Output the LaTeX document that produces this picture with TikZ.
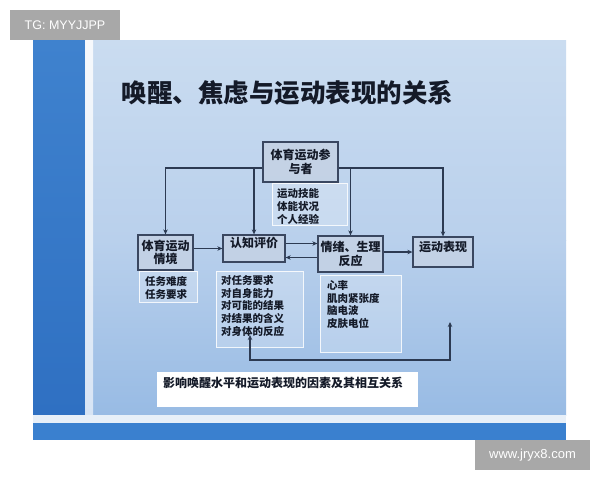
\documentclass[tikz,border=0pt]{standalone}
\usepackage{fontspec}
\newfontfamily\cjk{Noto Sans CJK SC}
\newfontfamily\lat{Liberation Sans}
\usetikzlibrary{arrows.meta,calc}
\definecolor{slideTop}{HTML}{CADCF0}
\definecolor{slideMid}{HTML}{B9D0EC}
\definecolor{slideBot}{HTML}{98BBE4}
\definecolor{stripTop}{HTML}{3F82CE}
\definecolor{stripBot}{HTML}{2F70C2}
\definecolor{bandBlue}{HTML}{3A80CF}
\definecolor{boxDraw}{HTML}{3A4760}
\definecolor{boxFill}{HTML}{C5D2E4}
\definecolor{lineCol}{HTML}{2C3A52}
\definecolor{txtCol}{HTML}{141A28}
\definecolor{tagGray}{HTML}{A8A8A8}
\begin{document}
\begin{tikzpicture}[x=1pt,y=-1pt,
  mainbox/.style={draw=boxDraw,line width=1.3pt,fill=boxFill,fill opacity=0.85,text opacity=1,
    align=center,inner sep=0pt,text=txtCol,font=\cjk\bfseries\fontsize{12}{13.5}\selectfont},
  detailbox/.style={draw=white,draw opacity=0.85,line width=1pt,fill=white,fill opacity=0.22,inner sep=0pt},
  detailtext/.style={anchor=north west,align=left,inner sep=0pt,text=txtCol,
    font=\cjk\bfseries\fontsize{10.5}{12.8}\selectfont},
  conn/.style={draw=lineCol,line width=1.1pt,-{Stealth[length=5pt,width=4.5pt]}},
  connboth/.style={draw=lineCol,line width=1.1pt,{Stealth[length=5pt,width=4.5pt]}-{Stealth[length=5pt,width=4.5pt]}},
  tag/.style={fill=tagGray,text=white,inner sep=0pt}
]
\useasboundingbox (0,0) rectangle (600,480);
\fill[white] (0,0) rectangle (600,480);
% slide background
\shade[top color=slideTop,bottom color=slideMid] (33,40) rectangle (566,240);
\shade[top color=slideMid,bottom color=slideBot] (33,240) rectangle (566,415);
\shade[top color=stripTop,bottom color=stripBot] (33,40) rectangle (85,415);
\shade[top color=white,bottom color=white!60!slideMid,opacity=0.85] (85,40) rectangle (93,415);
\fill[white!55!slideTop] (33,415) rectangle (566,423);
\fill[bandBlue] (33,423) rectangle (566,440);
% tags
\node[tag,minimum width=110pt,minimum height=30pt,font=\lat\fontsize{12.5}{14}\selectfont] (tg) at (65,25) {TG: MYYJJPP};
\node[tag,minimum width=115pt,minimum height=30pt,font=\lat\fontsize{13}{15}\selectfont] (www) at (532.5,455) {www.jryx8.com};
% title
\node[text=txtCol,inner sep=0pt,font=\cjk\bfseries\fontsize{25.5}{30}\selectfont] (T) at (287.5,93) {唤醒、焦虑与运动表现的关系};
% detail boxes
\node[detailbox,minimum width=75pt,minimum height=42pt] (A) at (309.5,204) {};
\node[detailbox,minimum width=58pt,minimum height=31pt] (SD) at (168,286.5) {};
\node[detailbox,minimum width=87pt,minimum height=76pt] (CD) at (259.5,309) {};
\node[detailbox,minimum width=81pt,minimum height=77pt] (ED) at (360.5,313.5) {};
\node[detailtext,font=\cjk\bfseries\fontsize{10.5}{13.3}\selectfont] (At) at (277,188) {运动技能\\体能状况\\个人经验};
\node[detailtext] (SDt) at (145,276) {任务难度\\任务要求};
\node[detailtext] (CDt) at (221,275) {对任务要求\\对自身能力\\对可能的结果\\对结果的含义\\对身体的反应};
\node[detailtext] (EDt) at (327,280) {心率\\肌肉紧张度\\脑电波\\皮肤电位};
% main boxes
\node[mainbox,minimum width=75pt,minimum height=40pt] (P) at (300.5,162) {体育运动参\\与者};
\node[mainbox,minimum width=55pt,minimum height=35pt] (S) at (165.5,252.5) {体育运动\\情境};
\node[mainbox,minimum width=62pt,minimum height=27pt,text depth=12pt] (C) at (254,248.5) {认知评价};
\node[mainbox,minimum width=65pt,minimum height=36pt] (E) at (350.5,254) {情绪、生理\\反应};
\node[mainbox,minimum width=60pt,minimum height=30pt,text depth=12pt] (R) at (443,252) {运动表现};
% caption
\node[fill=white,minimum width=261pt,minimum height=35pt,inner sep=0pt] (Cap) at (287.5,389.5) {};
\node[anchor=west,inner sep=0pt,text=txtCol,font=\cjk\bfseries\fontsize{12}{14}\selectfont] (Capt) at (163,383) {影响唤醒水平和运动表现的因素及其相互关系};
% connectors
\coordinate (PL) at ([yshift=-6pt]P.west);
\coordinate (PR) at ([yshift=-6pt]P.east);
\draw[conn] (PL) -| (S.north);
\draw[conn] (PL -| C.north) -- (C.north);
\draw[conn] (PR) -| (R.north);
\draw[conn] (PR -| E.north) -- (E.north);
\draw[conn] (S.east |- C.west) -- (C.west);
\draw[conn] ([yshift=5pt]C.east) -- ([yshift=5pt]C.east -| E.west);
\draw[conn] ([yshift=-9pt]C.east -| E.west) -- ([yshift=-9pt]C.east);
\draw[conn] (E.east |- R.west) -- (R.west);
\coordinate (fbR) at (450,322);
\coordinate (fbC) at (450,360);
\coordinate (fbL) at (250,335);
\draw[connboth] (fbR) -- (fbC) -| (fbL);
\end{tikzpicture}
\end{document}
